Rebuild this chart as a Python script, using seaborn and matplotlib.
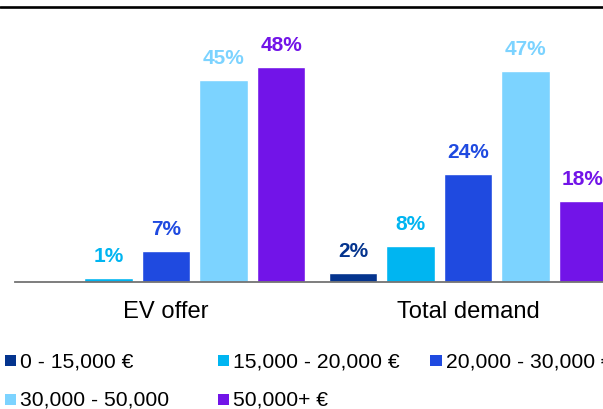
import numpy as np
import pandas as pd
import seaborn as sns
import matplotlib.pyplot as plt
from matplotlib.lines import Line2D
from matplotlib.patches import Rectangle

# Price-band shares (%) for the EV offer and for total demand
categories = ["EV offer", "Total demand"]
price_bands = ["0 - 15,000 €", "15,000 - 20,000 €", "20,000 - 30,000 €",
               "30,000 - 50,000", "50,000+ €"]
ev_offer = [0, 1, 7, 45, 48]
total_demand = [2, 8, 24, 47, 18]
band_colors = ["#04348E", "#00B5F1", "#1F4AE0", "#7CD3FF", "#7214E8"]

df = pd.DataFrame({
    "category": np.repeat(categories, len(price_bands)),
    "band": price_bands * len(categories),
    "share": ev_offer + total_demand,
})

sns.set_theme(style="white")
plt.rcParams["font.family"] = ["Liberation Sans", "DejaVu Sans"]

W, H = 603, 409
fig = plt.figure(figsize=(W / 100, H / 100), dpi=100)

# plot area: baseline at y=282 px, runs past the right edge of the canvas
base_px, top_px, left_px, right_px = 282, 6, 15, 619
ax = fig.add_axes([left_px / W, (H - base_px) / H,
                   (right_px - left_px) / W, (base_px - top_px) / H])

sns.barplot(data=df, x="category", y="share", hue="band",
            hue_order=price_bands, palette=band_colors, saturation=1,
            width=0.952, gap=0.165, legend=False, ax=ax)

px_per_pct = 4.48
ax.set_ylim(0, (base_px - top_px) / px_per_pct)
ax.set_xlim(-0.5, 1.5)

# value labels above each bar, in the bar's colour
for cont, color in zip(ax.containers, band_colors):
    for bar, v in zip(cont, cont.datavalues):
        if v > 0:
            ax.annotate(f"{v:.0f}%",
                        (bar.get_x() + bar.get_width() / 2, bar.get_height()),
                        xytext=(0, 16), textcoords="offset pixels",
                        ha="center", va="baseline", color=color,
                        fontsize=15, fontweight="bold")

# category names under each group
ax.set_xticks(range(len(categories)))
ax.set_xticklabels([])
for i, cat in enumerate(categories):
    ax.annotate(cat, (i, 0), xytext=(0, -36), textcoords="offset pixels",
                ha="center", va="baseline", fontsize=17.1, color="black",
                annotation_clip=False)

for side in ("left", "right", "top"):
    ax.spines[side].set_visible(False)
ax.spines["bottom"].set_color("#737373")
ax.spines["bottom"].set_linewidth(1.3)
ax.set_yticks([])
ax.set_xlabel("")
ax.set_ylabel("")
ax.tick_params(axis="x", length=0)

# rule across the top of the figure
fig.add_artist(Line2D([0, 1], [1 - 7 / H] * 2, transform=fig.transFigure,
                      color="black", lw=1.9))

# legend laid out in rows, three columns
col_x = [4.5, 217.5, 430]
row_base = [367, 406]
sq = 11.5
for i, (label, color) in enumerate(zip(price_bands, band_colors)):
    r, c = divmod(i, 3)
    x = col_x[c]
    yb = row_base[r]
    fig.add_artist(Rectangle((x / W, 1 - (yb - 1) / H), sq / W, sq / H,
                             transform=fig.transFigure, color=color, lw=0))
    fig.text((x + 15.5) / W, 1 - yb / H, label, fontsize=15.2, color="black",
             ha="left", va="baseline")

fig.savefig("out.png", dpi=100)
